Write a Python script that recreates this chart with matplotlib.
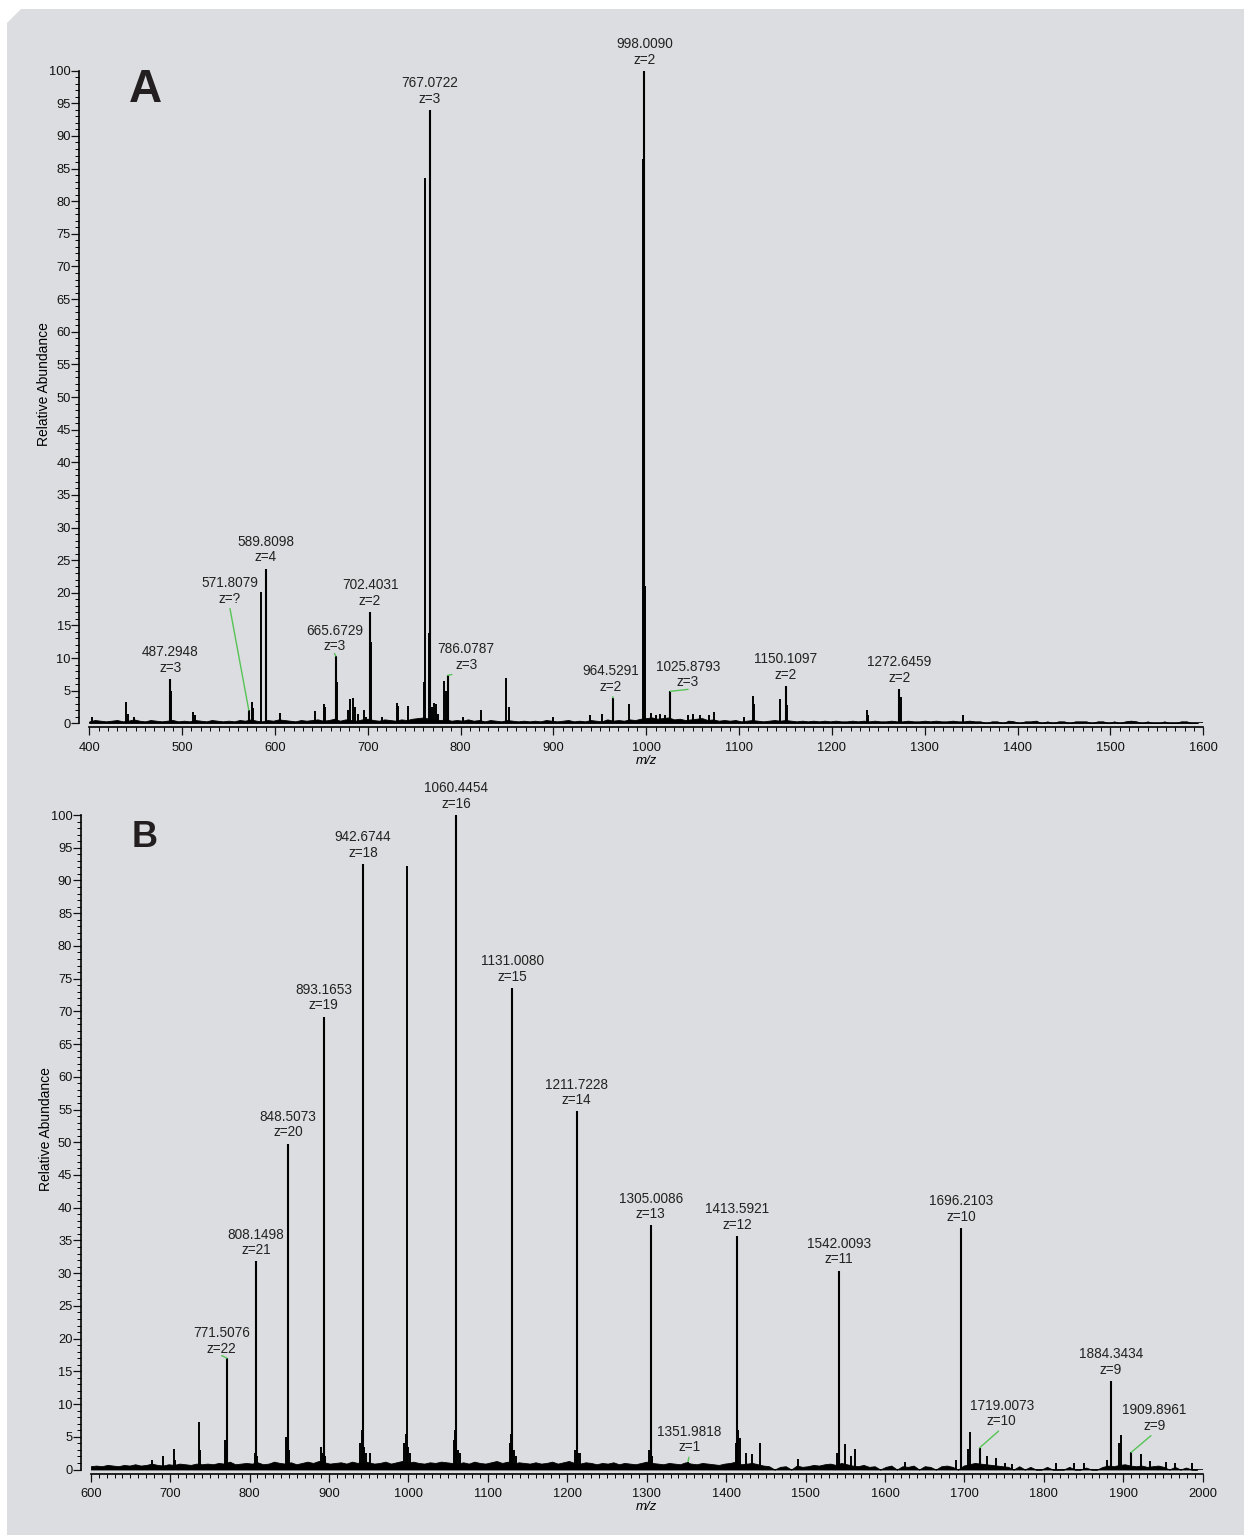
import numpy as np
import matplotlib
matplotlib.use('Agg')
import matplotlib.pyplot as plt
from matplotlib.patches import Polygon
from matplotlib.ticker import MultipleLocator

plt.rcParams['font.family'] = ['Liberation Sans', 'DejaVu Sans']

# ---------------- Panel A data ----------------
A_label_mz = [487.2948, 571.8079, 589.8098, 665.6729, 702.4031, 767.0722, 786.0787,
              964.5291, 998.0090, 1025.8793, 1150.1097, 1272.6459]
A_label_int = [6.8, 2.0, 23.7, 10.3, 17.1, 94.0, 7.35, 3.9, 100.0, 4.9, 5.7, 5.3]
A_label_z = ['3', '?', '4', '3', '2', '3', '3', '2', '2', '3', '2', '2']

A_minor_mz = [403, 440, 441.5, 448, 488.3, 512, 513.5, 575.2, 576.5, 585.3, 605.7, 643.6,
              653, 654, 667, 679, 681.2, 684, 686, 689, 696.3, 698, 703.5, 715, 731, 732.5,
              743.5, 761, 762.1, 766, 769, 771, 773, 776, 782, 784, 802.8, 822, 848.5, 852,
              900, 939.4, 952, 981.5, 996.9, 999, 1005.6, 1010, 1015, 1020, 1045, 1050,
              1058, 1068, 1072.5, 1105.5, 1114.6, 1115.5, 1144.5, 1151.5, 1237.9, 1239,
              1274.5, 1341]
A_minor_int = [1.0, 3.3, 1.5, 0.9, 5.0, 1.8, 1.3, 3.3, 2.4, 20.1, 1.6, 1.9,
               2.9, 2.5, 6.3, 2.0, 3.7, 3.9, 2.5, 1.5, 2.0, 1.0, 12.5, 1.0, 3.1, 2.6,
               2.6, 6.3, 83.5, 13.9, 2.5, 3.1, 3.0, 1.5, 6.5, 5.0, 1.0, 2.0, 7.0, 2.5,
               1.0, 1.2, 1.5, 2.9, 86.5, 21.0, 1.6, 1.2, 1.5, 1.3, 1.2, 1.4,
               1.2, 1.3, 1.8, 1.0, 4.2, 3.0, 3.7, 2.8, 2.1, 1.2,
               4.0, 1.3]

A_noise_start, A_noise_step = 400, 6
A_noise_int = [
    0.3, 0.5, 0.4, 0.3, 0.4, 0.5, 0.3, 0.4, 0.6, 0.4, 0.3, 0.5, 0.4, 0.3, 0.4, 0.5, 0.3, 0.4, 0.3, 0.5,
    0.4, 0.3, 0.5, 0.4, 0.3, 0.4, 0.3, 0.5, 0.4, 0.6, 0.4, 0.3, 0.5, 0.4, 0.6, 0.5, 0.4, 0.3, 0.5, 0.4,
    0.5, 0.6, 0.4, 0.5, 0.7, 0.4, 0.6, 0.5, 0.4, 0.6, 0.7, 0.5, 0.4, 0.6, 0.5, 0.4, 0.6, 0.5, 0.7, 0.8,
    0.9, 0.7, 0.6, 0.5, 0.6, 0.4, 0.5, 0.4, 0.6, 0.4, 0.5, 0.3, 0.5, 0.4, 0.3, 0.5, 0.4, 0.3, 0.4, 0.3,
    0.4, 0.3, 0.5, 0.4, 0.3, 0.4, 0.5, 0.3, 0.4, 0.3, 0.5, 0.4, 0.3, 0.6, 0.4, 0.5, 0.4, 0.6, 0.5, 0.7,
    0.8, 0.9, 0.7, 0.8, 0.9, 0.6, 0.7, 0.5, 0.6, 0.7, 0.8, 0.5, 0.6, 0.4, 0.5, 0.4, 0.5, 0.3, 0.4, 0.5,
    0.4, 0.3, 0.4, 0.5, 0.4, 0.5, 0.4, 0.3, 0.4, 0.3, 0.4, 0.3, 0.4, 0.3, 0.4, 0.3, 0.3, 0.4, 0.3, 0.4,
    0.3, 0.4, 0.3, 0.3, 0.4, 0.3, 0.3, 0.4, 0.3, 0.3, 0.4, 0.3, 0.4, 0.3, 0.3, 0.4, 0.3, 0.3, 0.4, 0.3,
    0.3, 0.0, 0.3, 0.3, 0.0, 0.4, 0.3, 0.0, 0.3, 0.3, 0.4, 0.0, 0.3, 0.0, 0.3, 0.3, 0.0, 0.3, 0.3, 0.3,
    0.0, 0.3, 0.3, 0.0, 0.3, 0.0, 0.3, 0.4, 0.3, 0.0, 0.3, 0.0, 0.0, 0.3, 0.0, 0.0, 0.3, 0.3, 0.0, 0.0]

# ---------------- Panel B data ----------------
B_label_mz = [771.5076, 808.1498, 848.5073, 893.1653, 942.6744, 1060.4454, 1131.0080,
              1211.7228, 1305.0086, 1351.9818, 1413.5921, 1542.0093, 1696.2103, 1719.0073,
              1884.3434, 1909.8961]
B_label_int = [17.0, 31.8, 49.8, 69.2, 92.5, 100.0, 73.6, 54.7, 37.3, 1.2, 35.7, 30.4,
               36.9, 3.3, 13.5, 2.6]
B_label_z = ['22', '21', '20', '19', '18', '16', '15', '14', '13', '1', '12', '11',
             '10', '10', '9', '9']

B_minor_mz = [676.8, 691.5, 704.9, 706, 736.4, 737.5, 769.5, 770.5, 806.5, 809, 846, 849.5,
              890.5, 892, 895, 939, 941, 944, 946, 952, 995, 996.5, 998.0, 1000, 1002,
              1057, 1059, 1062, 1065, 1128, 1129.5, 1133, 1136, 1210, 1213, 1216, 1303,
              1307, 1412, 1415, 1417.6, 1425, 1433, 1443, 1490, 1540, 1550, 1557, 1562,
              1625, 1690, 1705, 1707, 1729, 1740, 1751, 1760, 1815, 1838, 1851, 1880,
              1895, 1896.7, 1921.9, 1934, 1954, 1965, 1986]
B_minor_int = [1.5, 2.0, 3.2, 1.5, 7.2, 3.0, 4.5, 3.0, 2.5, 2.0, 5.0, 3.0,
               3.5, 2.5, 2.0, 4.0, 6.0, 3.5, 2.5, 2.5, 4.0, 5.5, 92.2, 3.5, 2.5,
               4.5, 6.0, 3.0, 2.5, 4.0, 5.5, 3.0, 2.0, 3.0, 2.5, 2.5, 3.0,
               2.0, 4.0, 6.0, 4.8, 2.5, 2.4, 4.0, 1.6, 2.5, 3.9, 2.0, 3.1,
               1.2, 1.5, 3.1, 5.8, 2.0, 1.7, 1.0, 0.8, 1.0, 1.0, 1.0, 1.5,
               4.0, 5.3, 2.4, 1.3, 1.2, 1.0, 1.0]

B_noise_start, B_noise_step = 600, 7
B_noise_int = [
    0.5, 0.6, 0.5, 0.7, 0.6, 0.5, 0.7, 0.6, 0.8, 0.6, 0.7, 0.9, 0.7, 0.6, 0.8, 0.7, 0.9, 0.8, 0.7, 0.9,
    0.8, 0.9, 0.8, 1.0, 0.9, 1.2, 0.8, 0.9, 1.0, 0.9, 1.1, 0.8, 0.9, 1.2, 1.0, 0.9, 1.1, 0.8, 1.0, 1.2,
    1.0, 1.3, 1.1, 0.9, 1.0, 1.1, 0.9, 1.2, 1.0, 1.3, 1.1, 0.9, 1.0, 1.2, 0.9, 1.1, 1.3, 1.0, 1.2, 1.0,
    0.9, 1.1, 1.0, 1.2, 1.1, 1.0, 0.9, 1.1, 0.9, 1.2, 1.0, 0.9, 1.1, 1.3, 1.0, 1.2, 0.9, 1.1, 1.0, 0.9,
    1.1, 0.9, 1.0, 1.2, 0.9, 1.1, 1.3, 1.0, 0.9, 1.1, 1.0, 0.8, 1.0, 0.9, 1.1, 0.8, 1.0, 0.9, 0.8, 1.0,
    1.2, 1.0, 0.9, 0.8, 1.0, 0.9, 0.8, 1.1, 0.9, 0.8, 1.0, 0.9, 0.8, 0.7, 0.9, 1.0, 1.2, 0.8, 0.9, 1.0,
    0.8, 0.6, 0.5, 0.0, 0.4, 0.5, 0.0, 0.6, 0.4, 0.5, 0.7, 0.6, 0.8, 0.9, 0.7, 1.0, 0.8, 0.6, 0.5, 0.7,
    0.4, 0.5, 0.0, 0.4, 0.6, 0.0, 0.5, 0.4, 0.6, 0.0, 0.5, 0.4, 0.0, 0.5, 0.6, 0.4, 0.0, 0.6, 0.8, 1.0,
    0.9, 0.8, 0.7, 0.6, 0.5, 0.4, 0.0, 0.5, 0.0, 0.4, 0.0, 0.0, 0.4, 0.0, 0.0, 0.0, 0.4, 0.0, 0.0, 0.3,
    0.0, 0.0, 0.4, 0.6, 0.5, 0.7, 0.8, 0.6, 0.5, 0.6, 0.4, 0.5, 0.6, 0.4, 0.0, 0.4, 0.0, 0.3, 0.0, 0.0]

# label positions (data coords) for labels joined to their peak by a green leader
A_green_pos = {571.8079: (551, 18.0), 665.6729: (664, 10.7), 786.0787: (806, 7.9),
               964.5291: (962, 4.5), 1025.8793: (1045, 5.2)}
B_green_pos = {771.5076: (765, 17.4), 1351.9818: (1354, 2.3), 1719.0073: (1747, 6.3),
               1909.8961: (1939, 5.6)}

W, H = 1244, 1535
fig = plt.figure(figsize=(W / 100, H / 100), dpi=100)
fig.patch.set_facecolor('white')
bg = Polygon([(7 / W, 1 - 23 / H), (21 / W, 1 - 9 / H), (1, 1 - 9 / H), (1, 0), (7 / W, 0)],
             closed=True, transform=fig.transFigure, facecolor='#dcdde0',
             edgecolor='none', zorder=-10)
fig.patches.append(bg)

axA = fig.add_axes([89.3 / W, 1 - 723.3 / H, (1203.3 - 89.3) / W, (723.3 - 70.7) / H])
axB = fig.add_axes([90.7 / W, 1 - 1469.5 / H, (1202.7 - 90.7) / W, (1469.5 - 815) / H])

GREEN = '#55c455'
LABEL_FS = 9.8


def draw_panel(ax, xlim, noise_start, noise_step, noise_int, minor_mz, minor_int,
               lab_mz, lab_int, lab_z, green_pos, letter, letter_xy, letter_fs):
    ax.patch.set_visible(False)
    noise_mz = noise_start + noise_step * np.arange(len(noise_int))
    ax.fill_between(noise_mz, 0, noise_int, color='black', lw=0.6, zorder=2)
    ax.axhline(0, color='black', lw=1.2, zorder=2)
    ax.vlines(minor_mz, 0, minor_int, color='black', lw=1.4, zorder=3)
    ax.vlines(lab_mz, 0, lab_int, color='black', lw=1.5, zorder=3)
    for mz, h, z in zip(lab_mz, lab_int, lab_z):
        txt = f"{mz:.4f}\nz={z}"
        if mz in green_pos:
            tx, ty = green_pos[mz]
            ax.annotate(txt, xy=(mz, h), xytext=(tx, ty), textcoords='data',
                        ha='center', va='bottom', fontsize=LABEL_FS, linespacing=1.15,
                        annotation_clip=False, color='#222222',
                        arrowprops=dict(arrowstyle='-', color=GREEN, lw=1.0,
                                        shrinkA=0, shrinkB=0, relpos=(0.5, 0)))
        else:
            ax.annotate(txt, xy=(mz, h), xytext=(0, 3), textcoords='offset points',
                        ha='center', va='bottom', fontsize=LABEL_FS, linespacing=1.15,
                        annotation_clip=False, color='#222222')

    ax.set_xlim(*xlim)
    ax.set_ylim(0, 100)
    ax.xaxis.set_major_locator(MultipleLocator(100))
    ax.xaxis.set_minor_locator(MultipleLocator(10))
    ax.yaxis.set_major_locator(MultipleLocator(5))
    ax.yaxis.set_minor_locator(MultipleLocator(1))
    ax.spines['top'].set_visible(False)
    ax.spines['right'].set_visible(False)
    ax.spines['left'].set_position(('outward', 7.2))
    ax.spines['bottom'].set_position(('outward', 2.9))
    ax.spines['left'].set_bounds(0, 100)
    for s in ('left', 'bottom'):
        ax.spines[s].set_linewidth(1.2)
    ax.tick_params(axis='both', which='major', direction='out', length=5.5, width=0.9,
                   labelsize=9.3, colors='#111111')
    ax.tick_params(axis='both', which='minor', direction='out', length=3, width=0.7)
    ax.tick_params(axis='y', which='major', pad=0.5)
    ax.tick_params(axis='x', which='major', pad=5)
    ax.set_xlabel('m/z', fontsize=9.5, style='italic', labelpad=1)
    ax.set_ylabel('Relative Abundance', fontsize=10, labelpad=0)
    ax.yaxis.set_label_coords(-0.034, 0.52)
    fig.text(letter_xy[0], letter_xy[1], letter, fontsize=letter_fs, fontweight='bold',
             color='#231f20', ha='left', va='baseline')


draw_panel(axA, (400, 1600), A_noise_start, A_noise_step, A_noise_int, A_minor_mz,
           A_minor_int, A_label_mz, A_label_int, A_label_z, A_green_pos,
           'A', (129 / W, 1 - 102 / H), 33)
draw_panel(axB, (600, 2000), B_noise_start, B_noise_step, B_noise_int, B_minor_mz,
           B_minor_int, B_label_mz, B_label_int, B_label_z, B_green_pos,
           'B', (132 / W, 1 - 847 / H), 26)

fig.savefig('out.png', dpi=100, facecolor=fig.get_facecolor())
